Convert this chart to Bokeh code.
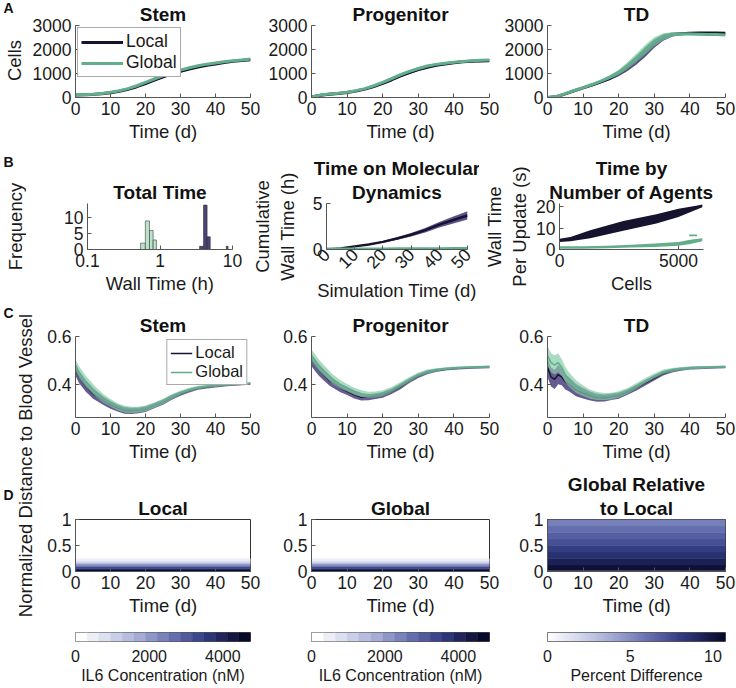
import numpy as np
from bokeh.plotting import figure
from bokeh.layouts import row, column
from bokeh.models import FixedTicker, Legend, LegendItem, LinearColorMapper, ColumnDataSource, Title
from bokeh.transform import linear_cmap
from bokeh.core.properties import value
from bokeh.embed import file_html
from bokeh.resources import INLINE

FONT = "Liberation Sans"
TXT = "#1a1a1a"
AXC = "#555555"
LOCAL_LINE = "#16132e"
LOCAL_BAND = "#4b3f7e"
GLOBAL_LINE = "#62ad8b"
GLOBAL_BAND = "#88cba9"
TICK = "17.5px"
LAB = "18.5px"
TTL = "19px"

# ---------------- data: row A (cells vs time) ----------------
t_a = [0, 2.5, 5, 7.5, 10, 12.5, 15, 17.5, 20, 22.5, 25, 27.5, 30, 32.5, 35, 37.5, 40, 42.5, 45, 47.5, 50]
stem_local = [100, 110, 130, 160, 200, 260, 340, 450, 580, 720, 860, 990, 1090, 1190, 1270, 1340, 1400, 1460, 1510, 1545, 1570]
stem_global = [100, 110, 135, 170, 215, 280, 370, 490, 630, 770, 910, 1040, 1140, 1240, 1320, 1390, 1440, 1490, 1530, 1565, 1600]
prog_local = [20, 90, 140, 170, 210, 270, 350, 460, 590, 740, 900, 1040, 1160, 1260, 1340, 1400, 1450, 1490, 1510, 1525, 1535]
prog_global = [20, 100, 150, 180, 220, 285, 370, 490, 630, 790, 950, 1090, 1210, 1310, 1380, 1430, 1470, 1500, 1530, 1550, 1560]
td_local = [0, 30, 150, 280, 400, 520, 650, 800, 1000, 1250, 1550, 1900, 2250, 2500, 2620, 2660, 2680, 2690, 2690, 2690, 2680]
td_global = [0, 30, 160, 290, 410, 540, 680, 850, 1050, 1330, 1650, 2000, 2330, 2540, 2630, 2650, 2650, 2640, 2630, 2620, 2600]
a_band_stem = [20, 20, 25, 30, 30, 35, 40, 45, 50, 55, 55, 55, 50, 45, 40, 40, 35, 35, 35, 35, 35]
a_band_prog = [20, 25, 30, 30, 30, 35, 40, 45, 55, 60, 60, 60, 55, 50, 45, 40, 40, 40, 40, 40, 40]
a_band_td = [10, 20, 30, 40, 40, 50, 60, 80, 110, 150, 180, 200, 180, 140, 90, 60, 50, 40, 40, 40, 40]

# ---------------- data: row B ----------------
hist_global_left = [0.54, 0.628, 0.716, 0.804]
hist_global_right = [0.628, 0.716, 0.804, 0.892]
hist_global_count = [2, 9, 6, 3]
hist_local_left = [3.52, 3.99, 4.46, 8.22]
hist_local_right = [3.99, 4.46, 4.93, 8.69]
hist_local_count = [1, 14, 4, 1]

t_md = [0, 5, 10, 15, 20, 25, 30, 35, 40, 45, 50]
md_local = [0, 0.12, 0.34, 0.55, 0.83, 1.2, 1.6, 2.1, 2.7, 3.2, 3.7]
md_local_hw = [0, 0.02, 0.04, 0.06, 0.09, 0.13, 0.18, 0.24, 0.3, 0.38, 0.45]
md_global = [0.02, 0.03, 0.03, 0.04, 0.04, 0.05, 0.05, 0.06, 0.06, 0.07, 0.08]

agents_local_x = [0, 460, 1290, 2680, 4070, 5000, 5740, 6000]
agents_local_hi = [5.0, 5.8, 9.0, 13.3, 16.5, 19.1, 20.5, 21.0]
agents_local_lo = [3.5, 3.8, 5.3, 8.8, 12.2, 15.2, 18.6, 19.8]
agents_global_x = [0, 1000, 2000, 3000, 4000, 5000, 5500, 6000]
agents_global_hi = [1.5, 1.5, 1.8, 2.2, 2.8, 3.5, 4.5, 5.2]
agents_global_lo = [0.3, 0.4, 0.6, 0.9, 1.2, 1.8, 2.6, 3.8]
agents_global2_x = [5450, 5780]
agents_global2_hi = [7.0, 7.0]
agents_global2_lo = [6.2, 6.2]

# ---------------- data: row C ----------------
t_c = [0, 1, 2, 3, 4, 5, 6, 8, 10, 12, 14, 16, 18, 20, 22.5, 25, 27.5, 30, 32.5, 35, 37.5, 40, 42.5, 45, 47.5, 50]
c_stem_local = [0.46, 0.43, 0.41, 0.39, 0.375, 0.36, 0.35, 0.33, 0.313, 0.30, 0.29, 0.288, 0.29, 0.295, 0.31, 0.325, 0.345, 0.36, 0.373, 0.383, 0.388, 0.392, 0.395, 0.398, 0.40, 0.402]
c_stem_global = [0.48, 0.45, 0.43, 0.41, 0.395, 0.38, 0.365, 0.34, 0.322, 0.305, 0.295, 0.292, 0.293, 0.298, 0.312, 0.328, 0.348, 0.364, 0.377, 0.386, 0.391, 0.394, 0.397, 0.399, 0.401, 0.403]
c_prog_local = [0.50, 0.48, 0.46, 0.445, 0.43, 0.415, 0.405, 0.385, 0.37, 0.355, 0.345, 0.345, 0.35, 0.355, 0.37, 0.39, 0.415, 0.435, 0.45, 0.458, 0.463, 0.466, 0.468, 0.47, 0.471, 0.472]
c_prog_global = [0.52, 0.50, 0.48, 0.465, 0.45, 0.435, 0.42, 0.40, 0.385, 0.37, 0.36, 0.355, 0.357, 0.362, 0.377, 0.398, 0.42, 0.44, 0.453, 0.46, 0.465, 0.468, 0.47, 0.471, 0.472, 0.473]
c_td_local = [0.47, 0.43, 0.42, 0.44, 0.43, 0.41, 0.40, 0.375, 0.362, 0.35, 0.343, 0.342, 0.347, 0.352, 0.367, 0.385, 0.405, 0.425, 0.445, 0.457, 0.463, 0.467, 0.469, 0.47, 0.471, 0.472]
c_td_global = [0.52, 0.49, 0.48, 0.49, 0.47, 0.44, 0.42, 0.39, 0.372, 0.358, 0.35, 0.348, 0.35, 0.357, 0.372, 0.393, 0.415, 0.435, 0.452, 0.46, 0.465, 0.468, 0.47, 0.471, 0.472, 0.473]
c_hw = [0.025, 0.025, 0.024, 0.023, 0.022, 0.021, 0.02, 0.018, 0.016, 0.015, 0.014, 0.013, 0.012, 0.012, 0.011, 0.011, 0.01, 0.009, 0.008, 0.007, 0.006, 0.006, 0.005, 0.005, 0.005, 0.005]
c_hw_td = [0.04, 0.04, 0.04, 0.04, 0.035, 0.032, 0.03, 0.026, 0.022, 0.019, 0.017, 0.015, 0.014, 0.013, 0.012, 0.012, 0.011, 0.01, 0.009, 0.008, 0.007, 0.006, 0.006, 0.005, 0.005, 0.005]

# ---------------- data: row D ----------------
heat_time = [0, 50]
il6_dist_lo = [0.0, 0.03, 0.06, 0.09, 0.12, 0.15, 0.18, 0.21]
il6_dist_hi = [0.03, 0.06, 0.09, 0.12, 0.15, 0.18, 0.21, 0.245]
il6_local = [4600, 3900, 3300, 2700, 2100, 1500, 900, 400]
il6_global = [4700, 4000, 3350, 2750, 2150, 1550, 950, 420]
il6_local_max = 4750
il6_global_max = 4850
il6_levels = 15
rel_dist_lo = [0.0, 0.02, 0.125, 0.25, 0.375, 0.5, 0.625, 0.75, 0.875]
rel_dist_hi = [0.02, 0.125, 0.25, 0.375, 0.5, 0.625, 0.75, 0.875, 1.0]
rel_pct = [3.5, 10.3, 9.4, 8.7, 8.0, 7.3, 6.7, 6.1, 5.5]
rel_max = 10.76

time_ticks = [0, 10, 20, 30, 40, 50]

# outer texts (panel letters, shared y labels), positions in px inside each text strip
strip_a_texts = ["Cells"]
strip_a_x = [14]
strip_a_y = [60]
strip_b_texts = ["Frequency"]
strip_b_x = [15]
strip_b_y = [74]
strip_c_texts = ["Normalized Distance to Blood Vessel"]
strip_c_x = [25]
strip_c_y = [160]
letters_a, letters_a_y = ["A"], [7]
letters_b, letters_b_y = ["B"], [9]
letters_c, letters_c_y = ["C", "D"], [7, 189]

# colormap (white -> navy)
anc_pos = [0.0, 0.15, 0.35, 0.55, 0.75, 1.0]
anc_col = ["#ffffff", "#dadeef", "#a7aed6", "#6b74b2", "#323c83", "#080828"]


def make_palette(n):
    rgb = np.array([[int(c[i:i + 2], 16) for i in (1, 3, 5)] for c in anc_col], float)
    out = []
    for s in np.linspace(0, 1, n):
        r, g, b = (np.interp(s, anc_pos, rgb[:, k]) for k in range(3))
        out.append("#%02x%02x%02x" % (int(round(r)), int(round(g)), int(round(b))))
    return out


PAL15 = make_palette(il6_levels)
PAL256 = make_palette(256)


def base_fig(w, h, l, r, t, b, xr, yr, **kw):
    p = figure(width=w, height=h, x_range=xr, y_range=yr, output_backend="svg",
               toolbar_location=None, min_border_left=l, min_border_right=r,
               min_border_top=t, min_border_bottom=b, title=None, **kw)
    p.xgrid.visible = False
    p.ygrid.visible = False
    p.outline_line_color = None
    p.background_fill_color = "white"
    p.border_fill_color = "white"
    return p


def style_axes(p, xlabel="", ylabel="", tick=TICK, lab=LAB, xlab_std=3, ylab_std=3):
    for ax in list(p.xaxis) + list(p.yaxis):
        ax.axis_line_color = AXC
        ax.axis_line_width = 1
        ax.major_tick_line_color = AXC
        ax.major_tick_in = 4
        ax.major_tick_out = 0
        ax.minor_tick_line_color = None
        ax.major_label_text_font = FONT
        ax.major_label_text_font_size = tick
        ax.major_label_text_color = TXT
        ax.major_label_standoff = 4
        ax.axis_label_text_font = FONT
        ax.axis_label_text_font_size = lab
        ax.axis_label_text_font_style = "normal"
        ax.axis_label_text_color = TXT
    p.xaxis.axis_label = xlabel
    p.yaxis.axis_label = ylabel
    p.xaxis.axis_label_standoff = xlab_std
    p.yaxis.axis_label_standoff = ylab_std


def set_title(p, lines):
    # the first title added sits closest to the frame
    for k, txt in enumerate(reversed(lines)):
        p.add_layout(Title(text=txt, align="center", text_font=FONT, text_font_size=TTL,
                           text_font_style="bold", text_color="#111111",
                           standoff=2 if k == 0 else 0), "above")


def band(p, x, mid, hw, color, alpha):
    lo = [m - h for m, h in zip(mid, hw)]
    hi = [m + h for m, h in zip(mid, hw)]
    return p.varea(x=x, y1=lo, y2=hi, fill_color=color, fill_alpha=alpha)


def legend(p, lr, gr, loc, size, gw, gh, margin):
    leg = Legend(items=[LegendItem(label="Local", renderers=[lr]),
                        LegendItem(label="Global", renderers=[gr])], location=loc)
    leg.label_text_font = FONT
    leg.label_text_font_size = size
    leg.label_text_color = TXT
    leg.glyph_width = gw
    leg.glyph_height = gh
    leg.label_height = gh
    leg.spacing = 0
    leg.padding = 3
    leg.margin = margin
    leg.label_standoff = 3
    leg.border_line_color = "#555555"
    leg.background_fill_alpha = 1
    p.add_layout(leg)


def text_strip(w, h, texts, tx, ty, letters, ly):
    s = figure(width=w, height=h, x_range=(0, w), y_range=(h, 0), output_backend="svg",
               toolbar_location=None, min_border=0, x_axis_location=None, y_axis_location=None)
    s.xgrid.visible = False
    s.ygrid.visible = False
    s.outline_line_color = None
    s.text(x=tx, y=ty, text=texts, angle=np.pi / 2, text_align="center", text_baseline="middle",
           text_font=value(FONT), text_font_size=value(LAB), text_color=TXT)
    s.text(x=[3] * len(letters), y=ly, text=letters, text_align="left", text_baseline="middle",
           text_font=value(FONT), text_font_size=value("14px"), text_font_style="bold",
           text_color="#111111")
    return s


# ---------------- Row A ----------------
A_H, A_T, A_B = 152, 23, 55
STRIP_A = 26
a_specs = [("Stem", stem_local, stem_global, a_band_stem, (236, 49, 12)),
           ("Progenitor", prog_local, prog_global, a_band_prog, (239, 49, 12)),
           ("TD", td_local, td_global, a_band_td, (235, 46, 11))]
row_a = []
for i, (name, loc, glo, hw, (w, l, r)) in enumerate(a_specs):
    p = base_fig(w, A_H, l, r, A_T, A_B, (0, 50), (0, 3000))
    band(p, t_a, loc, hw, LOCAL_BAND, 0.9)
    lr = p.line(t_a, loc, line_color=LOCAL_LINE, line_width=3)
    band(p, t_a, glo, hw, GLOBAL_BAND, 0.75)
    gr = p.line(t_a, glo, line_color=GLOBAL_LINE, line_width=3)
    p.xaxis.ticker = FixedTicker(ticks=time_ticks)
    p.yaxis.ticker = FixedTicker(ticks=[0, 1000, 2000, 3000])
    style_axes(p, "Time (d)", "")
    set_title(p, [name])
    if i == 0:
        legend(p, lr, gr, "top_left", "17.5px", 42, 20, 2)
    row_a.append(p)
strip_a = text_strip(STRIP_A, A_H, strip_a_texts, strip_a_x, strip_a_y, letters_a, letters_a_y)

# ---------------- Row B ----------------
B_H, B_T, B_B = 153, 51, 56
row_b = []
pb1 = base_fig(222, B_H, 61, 16, B_T, B_B, (0.1, 10), (0, 14.5), x_axis_type="log")
pb1.quad(left=hist_global_left, right=hist_global_right, bottom=0, top=hist_global_count,
         fill_color="#b9e3ca", line_color="#3a3a3a", line_width=0.6)
pb1.quad(left=hist_local_left, right=hist_local_right, bottom=0, top=hist_local_count,
         fill_color="#4b4579", line_color="#2a2a2a", line_width=0.6)
pb1.xaxis.ticker = FixedTicker(ticks=[0.1, 1, 10])
pb1.xaxis.major_label_overrides = {0.1: "0.1", 1: "1", 10: "10"}
pb1.yaxis.ticker = FixedTicker(ticks=[0, 5, 10])
style_axes(pb1, "Wall Time (h)", "")
set_title(pb1, ["Total Time"])
row_b.append(pb1)

pb2 = base_fig(231, B_H, 76, 12, B_T, B_B, (0, 50), (0, 5))
band(pb2, t_md, md_local, md_local_hw, LOCAL_BAND, 0.9)
pb2.line(t_md, md_local, line_color=LOCAL_LINE, line_width=2.5)
pb2.line(t_md, md_global, line_color=GLOBAL_LINE, line_width=3.5)
pb2.xaxis.ticker = FixedTicker(ticks=time_ticks)
pb2.yaxis.ticker = FixedTicker(ticks=[0, 5])
style_axes(pb2, "Simulation Time (d)", "Cumulative\nWall Time (h)", ylab_std=12)
pb2.xaxis.major_label_orientation = np.pi / 4
pb2.xaxis.major_label_standoff = 2
set_title(pb2, ["Time on Molecular", "Dynamics"])
row_b.append(pb2)

pb3 = base_fig(257, B_H, 80, 33, B_T, B_B, (0, 6050), (0, 21.5))
pb3.varea(x=agents_local_x, y1=agents_local_lo, y2=agents_local_hi, fill_color=LOCAL_LINE)
pb3.varea(x=agents_global_x, y1=agents_global_lo, y2=agents_global_hi, fill_color=GLOBAL_LINE)
pb3.varea(x=agents_global2_x, y1=agents_global2_lo, y2=agents_global2_hi, fill_color=GLOBAL_LINE)
pb3.xaxis.ticker = FixedTicker(ticks=[0, 5000])
pb3.yaxis.ticker = FixedTicker(ticks=[0, 10, 20])
style_axes(pb3, "Cells", "Wall Time\nPer Update (s)", ylab_std=3)
set_title(pb3, ["Time by", "Number of Agents"])
row_b.append(pb3)
strip_b = text_strip(STRIP_A, B_H, strip_b_texts, strip_b_x, strip_b_y, letters_b, letters_b_y)

# ---------------- Rows C, D, E column geometry ----------------
STRIP_C = 36
COL1 = (226, 39, 12)
COL2 = (239, 49, 12)
COL3 = (235, 46, 11)

# ---------------- Row C ----------------
C_H, C_T, C_B = 166, 31, 54
c_specs = [("Stem", c_stem_local, c_stem_global, c_hw, COL1),
           ("Progenitor", c_prog_local, c_prog_global, c_hw, COL2),
           ("TD", c_td_local, c_td_global, c_hw_td, COL3)]
row_c = []
for i, (name, loc, glo, hw, (w, l, r)) in enumerate(c_specs):
    p = base_fig(w, C_H, l, r, C_T, C_B, (0, 50), (0.26, 0.6))
    band(p, t_c, loc, hw, LOCAL_BAND, 0.85)
    lr = p.line(t_c, loc, line_color=LOCAL_LINE, line_width=1.5)
    band(p, t_c, glo, hw, GLOBAL_BAND, 0.7)
    gr = p.line(t_c, glo, line_color=GLOBAL_LINE, line_width=1.5)
    p.xaxis.ticker = FixedTicker(ticks=time_ticks)
    p.yaxis.ticker = FixedTicker(ticks=[0.4, 0.6])
    style_axes(p, "Time (d)", "")
    set_title(p, [name])
    if i == 0:
        legend(p, lr, gr, "top_right", "16.5px", 22, 16, 3)
    row_c.append(p)

# ---------------- Row D ----------------
D_H, D_T, D_B = 154, 48, 54
d_specs = [("Local", il6_local, il6_local_max, COL1),
           ("Global", il6_global, il6_global_max, COL2)]
row_d = []
for name, conc, cmax, (w, l, r) in d_specs:
    p = base_fig(w, D_H, l, r, D_T, D_B, (0, 50), (0, 1))
    src = ColumnDataSource(dict(lo=il6_dist_lo, hi=il6_dist_hi, c=conc))
    cm = linear_cmap("c", PAL15, 0, cmax)
    p.quad(left=heat_time[0], right=heat_time[1], bottom="lo", top="hi", source=src,
           fill_color=cm, line_color=cm, line_width=0.5)
    set_title(p, [name])
    row_d.append(p)
w, l, r = COL3
p = base_fig(w, D_H, l, r, D_T, D_B, (0, 50), (0, 1))
src = ColumnDataSource(dict(lo=rel_dist_lo, hi=rel_dist_hi, c=rel_pct))
cm = linear_cmap("c", PAL256, 0, rel_max)
p.quad(left=heat_time[0], right=heat_time[1], bottom="lo", top="hi", source=src,
       fill_color=cm, line_color=cm, line_width=0.5)
set_title(p, ["Global Relative", "to Local"])
row_d.append(p)
for p in row_d:
    p.outline_line_color = "#333333"
    p.outline_line_width = 1
    p.xaxis.ticker = FixedTicker(ticks=time_ticks)
    p.yaxis.ticker = FixedTicker(ticks=[0, 0.5, 1])
    p.yaxis.major_label_overrides = {0: "0", 0.5: "0.5", 1: "1"}
    style_axes(p, "Time (d)", "")

# ---------------- colorbars ----------------
E_H, E_T, E_B = 63, 7, 47
row_e = []
for cmax, (w, l, r) in [(il6_local_max, COL1), (il6_global_max, COL2)]:
    p = base_fig(w, E_H, l, r, E_T, E_B, (0, cmax), (0, 1))
    edges = np.linspace(0, cmax, il6_levels + 1)
    p.quad(left=edges[:-1], right=edges[1:], bottom=0, top=1, fill_color=PAL15, line_color=PAL15,
           line_width=0.5)
    p.xaxis.ticker = FixedTicker(ticks=[0, 2000, 4000])
    row_e.append((p, "IL6 Concentration (nM)"))
w, l, r = COL3
p = base_fig(w, E_H, l, r, E_T, E_B, (0, rel_max), (0, 1))
p.image(image=[np.linspace(0, rel_max, 256)[None, :]], x=0, y=0, dw=rel_max, dh=1,
        color_mapper=LinearColorMapper(palette=PAL256, low=0, high=rel_max))
p.xaxis.ticker = FixedTicker(ticks=[0, 5, 10])
row_e.append((p, "Percent Difference"))
figs_e = []
for p, lab in row_e:
    p.yaxis.visible = False
    p.outline_line_color = "#555555"
    style_axes(p, lab, "", tick="16px", lab="16px", xlab_std=2)
    p.xaxis.axis_line_color = None
    p.xaxis.major_tick_line_color = None
    p.xaxis.major_label_standoff = 8
    figs_e.append(p)

strip_c = text_strip(STRIP_C, C_H + D_H + E_H, strip_c_texts, strip_c_x, strip_c_y,
                     letters_c, letters_c_y)

upper_a = row(strip_a, column(row(*row_a)))
upper_b = row(strip_b, column(row(*row_b)))
lower = row(strip_c, column(row(*row_c), row(*row_d), row(*figs_e)))
layout = column(upper_a, upper_b, lower)

open("out.html", "w").write(file_html(layout, INLINE))
